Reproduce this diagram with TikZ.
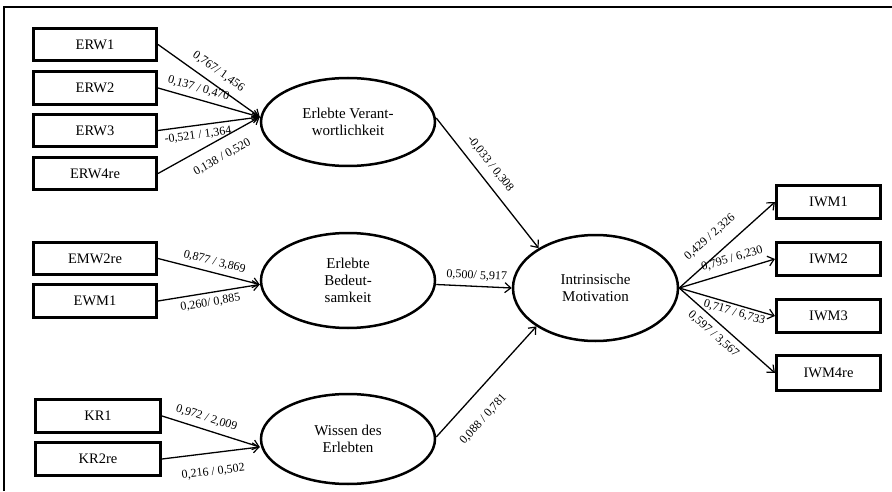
\documentclass[tikz,border=0pt]{standalone}
\usepackage{fontspec}
\setmainfont{Liberation Serif}
\usetikzlibrary{shapes.geometric,arrows.meta}
\begin{document}
\begin{tikzpicture}[x=1pt,y=1pt,
  ind/.style={draw,line width=2.6pt,minimum width=123.5pt,minimum height=32.5pt,inner sep=0pt,font=\fontsize{14.5}{17}\selectfont},
  outd/.style={draw,line width=2.6pt,minimum width=104.5pt,minimum height=33.5pt,inner sep=0pt,font=\fontsize{14.5}{17}\selectfont},
  lat/.style={draw,ellipse,line width=2.5pt,minimum width=174pt,inner sep=0pt,align=center,font=\fontsize{15}{17}\selectfont},
  conn/.style={line width=1.3pt,-{Straight Barb[length=6pt,width=10pt,line width=1.2pt]}},
  lbl/.style={font=\fontsize{12}{14}\selectfont,sloped,inner sep=1.5pt}]
\useasboundingbox (0,0) rectangle (892,491);
\draw[line width=1.3pt] (4,0) -- (4,484) -- (892,484);

% indicators left
\node[ind] (erw1) at (95,446.5) {ERW1};
\node[ind] (erw2) at (95,403) {ERW2};
\node[ind] (erw3) at (95,360.5) {ERW3};
\node[ind] (erw4) at (95,317.5) {ERW4re};
\node[ind] (emw2) at (95,232.5) {EMW2re};
\node[ind] (ewm1) at (95,190) {EWM1};
\node[ind,minimum width=125.5pt] (kr1) at (98,75) {KR1};
\node[ind,minimum width=125.5pt,minimum height=33.5pt] (kr2) at (98,32) {KR2re};

% latent variables
\node[lat,minimum height=88pt] (ev) at (348,369) {Erlebte Verant-\\wortlichkeit};
\node[lat,minimum height=95pt] (eb) at (348,210.5) {Erlebte\\Bedeut-\\samkeit};
\node[lat,minimum height=90pt] (we) at (348,52) {Wissen des\\Erlebten};
\node[lat,minimum width=165pt,minimum height=106pt] (im) at (595.5,203) {Intrinsische\\Motivation};

% indicators right
\node[outd] (iwm1) at (828.5,289) {IWM1};
\node[outd] (iwm2) at (828.5,232) {IWM2};
\node[outd] (iwm3) at (828.5,175) {IWM3};
\node[outd,minimum height=35pt] (iwm4) at (828.5,118) {IWM4re};

% measurement paths
\draw[conn] (erw1.east) -- node[lbl,pos=0.52,above=6pt] {0,767/ 1,456} ([yshift=5pt]ev.west);
\draw[conn] (erw2.east) -- node[lbl,pos=0.37,above=3.5pt] {0,137 / 0,470} ([yshift=5pt]ev.west);
\draw[conn] (erw3.east) -- node[lbl,pos=0.38,below=3pt] {-0,521 / 1,364} ([yshift=5pt]ev.west);
\draw[conn] (erw4.east) -- node[lbl,pos=0.55,below=10pt] {0,138 / 0,520} ([yshift=5pt]ev.west);

\draw[conn] (emw2.east) -- node[lbl,pos=0.53,above=3.5pt] {0,877 / 3,869} ([yshift=-4pt]eb.west);
\draw[conn] (ewm1.east) -- node[lbl,pos=0.5,below=3pt] {0,260/ 0,885} ([yshift=-4pt]eb.west);

\draw[conn] (kr1.east) -- node[lbl,pos=0.42,above=4.5pt] {0,972 / 2,009} ([yshift=-8pt]we.west);
\draw[conn] (kr2.east) -- node[lbl,pos=0.5,below=12pt] {0,216 / 0,502} ([yshift=-8pt]we.west);

% structural paths
\draw[conn] ([yshift=4pt]ev.east) -- node[lbl,pos=0.42,above=7pt] {-0,033 / 0,308} (im.145.6);
\draw[conn] ([yshift=-4pt]eb.east) -- node[lbl,pos=0.53,above=3.5pt] {0,500/ 5,917} (im.west);
\draw[conn] ([yshift=2pt]we.east) -- node[lbl,pos=0.3,below=16pt] {0,088 / 0,781} (im.213.7);

% outgoing
\draw[conn] (im.east) -- node[lbl,pos=0.44,above=10pt] {0,429 / 2,326} (iwm1.west);
\draw[conn] (im.east) -- node[lbl,pos=0.59,above=5.5pt] {0,795 / 6,230} (iwm2.west);
\draw[conn] (im.east) -- node[lbl,pos=0.6,below=1pt] {0,717 / 6,733} (iwm3.west);
\draw[conn] (im.east) -- node[lbl,pos=0.44,below=5pt] {0,597 / 3,567} (iwm4.west);
\end{tikzpicture}
\end{document}
